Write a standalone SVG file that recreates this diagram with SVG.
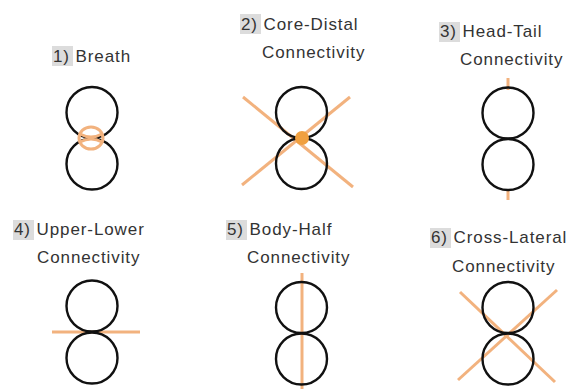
<svg xmlns="http://www.w3.org/2000/svg" width="570" height="389" viewBox="0 0 570 389">
<style>
.t{font-family:"Liberation Sans",Arial,sans-serif;font-size:17px;fill:#333;letter-spacing:0.9px;}
.hl{fill:#dcdcdc;}
.c{fill:none;stroke:#111;stroke-width:2.4;}
.o{stroke:#f2b27e;stroke-width:3;fill:none;stroke-linecap:butt;}
</style>
<rect width="570" height="389" fill="#fff"/>
<g id="n1">
<rect class="hl" x="52" y="46" width="21" height="20"/>
<text class="t" x="53" y="62">1) Breath</text>
<circle class="c" cx="92" cy="112.5" r="25.5"/>
<circle class="c" cx="92" cy="164" r="25.5"/>
<ellipse class="o" cx="91" cy="138" rx="12" ry="11"/>
<path class="o" d="M80 134 Q91 140 102 134 M80 142 Q91 136 102 142"/>
</g>
<g id="n2">
<rect class="hl" x="240" y="14" width="21" height="20"/>
<text class="t" x="241" y="30">2) Core-Distal</text>
<text class="t" x="262" y="58">Connectivity</text>
</g>
<g id="n3">
<rect class="hl" x="439" y="22" width="21" height="20"/>
<text class="t" x="440" y="37">3) Head-Tail</text>
<text class="t" x="460" y="65">Connectivity</text>
</g>
<g id="n4">
<rect class="hl" x="13" y="220" width="21" height="20"/>
<text class="t" x="14" y="235">4) Upper-Lower</text>
<text class="t" x="37" y="263">Connectivity</text>
</g>
<g id="n5">
<rect class="hl" x="226" y="220" width="21" height="20"/>
<text class="t" x="227" y="235">5) Body-Half</text>
<text class="t" x="247" y="263">Connectivity</text>
</g>
<g id="n6">
<rect class="hl" x="430" y="228" width="21" height="20"/>
<text class="t" x="431" y="243">6) Cross-Lateral</text>
<text class="t" x="452" y="272">Connectivity</text>
</g>
<g id="connectors">
<line class="o" x1="243" y1="97" x2="353" y2="187"/>
<line class="o" x1="350" y1="97" x2="242" y2="185"/>
<line class="o" x1="508" y1="78" x2="508" y2="90"/>
<line class="o" x1="508" y1="189" x2="508" y2="200"/>
<line class="o" x1="52" y1="332" x2="140" y2="332"/>
<line class="o" x1="302" y1="273" x2="302" y2="389"/>
<line class="o" x1="460" y1="292" x2="555" y2="382"/>
<line class="o" x1="557" y1="290" x2="458" y2="380"/>
</g>
<g id="circles">
<circle class="c" cx="301.5" cy="112.5" r="25.5"/>
<circle class="c" cx="301.5" cy="163.5" r="25.5"/>
<circle cx="302" cy="138" r="7" fill="#f0a040"/>
<circle class="c" cx="508" cy="113" r="25.5"/>
<circle class="c" cx="508" cy="164.5" r="25.5"/>
<circle class="c" cx="92" cy="306" r="25.5"/>
<circle class="c" cx="92" cy="358" r="25.5"/>
<circle class="c" cx="301.5" cy="307.5" r="25.5"/>
<circle class="c" cx="301.5" cy="359" r="25.5"/>
<circle class="c" cx="508" cy="307.5" r="25.5"/>
<circle class="c" cx="508" cy="359" r="25.5"/>
</g>
</svg>
